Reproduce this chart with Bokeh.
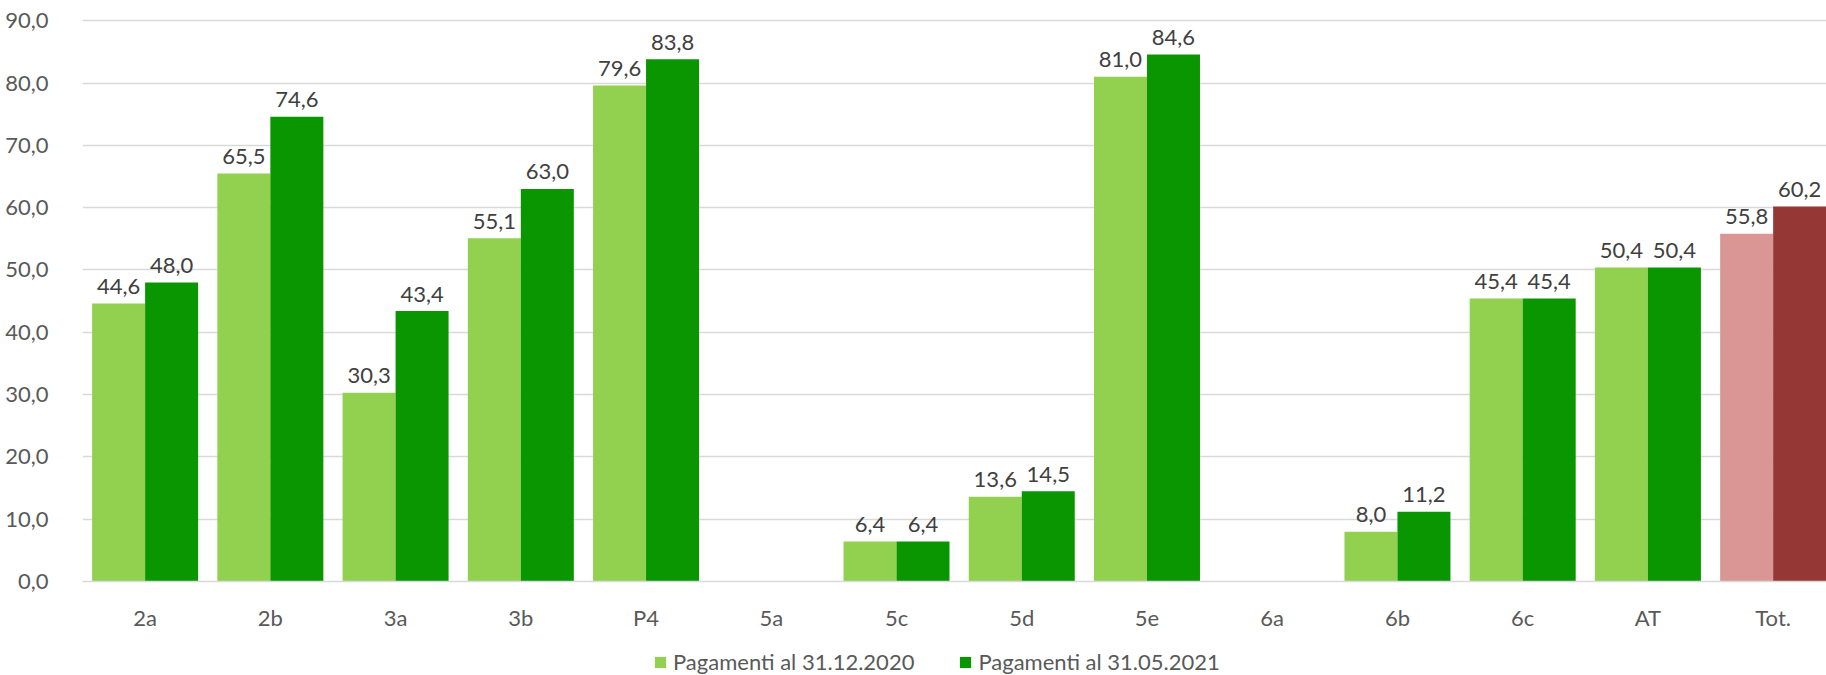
from bokeh.plotting import figure
from bokeh.layouts import column
from bokeh.models import ColumnDataSource, Range1d, Legend, LegendItem, FixedTicker
from bokeh.core.properties import value
from bokeh.embed import file_html
from bokeh.resources import INLINE

# ---- data ----
categories = ["2a", "2b", "3a", "3b", "P4", "5a", "5c", "5d", "5e", "6a", "6b", "6c", "AT", "Tot."]
pagamenti_2020 = [44.6, 65.5, 30.3, 55.1, 79.6, None, 6.4, 13.6, 81.0, None, 8.0, 45.4, 50.4, 55.8]
pagamenti_2021 = [48.0, 74.6, 43.4, 63.0, 83.8, None, 6.4, 14.5, 84.6, None, 11.2, 45.4, 50.4, 60.2]
series_names = ["Pagamenti al 31.12.2020", "Pagamenti al 31.05.2021"]
highlight_category = "Tot."
y_ticks = [0, 10, 20, 30, 40, 50, 60, 70, 80, 90]
y_tick_labels = ["0,0", "10,0", "20,0", "30,0", "40,0", "50,0", "60,0", "70,0", "80,0", "90,0"]

# ---- styles ----
base_colors = ["#92D050", "#0A9600"]
highlight_colors = ["#D99694", "#953735"]
FONT = "Lato"
BAR_W = 0.4232
offsets = [-BAR_W / 2, BAR_W / 2]


def fmt(v):
    return f"{v:.1f}".replace(".", ",")


p = figure(width=1826, height=640, output_backend="svg", toolbar_location=None,
           x_range=Range1d(0, 13.926), y_range=Range1d(0, 91),
           min_border_left=82, min_border_right=0, min_border_top=14, min_border_bottom=59)
p.outline_line_color = None
p.background_fill_color = "white"
p.border_fill_color = "white"

sources = []
for s, vals in enumerate([pagamenti_2020, pagamenti_2021]):
    xs, tops, cols, texts = [], [], [], []
    for i, (c, v) in enumerate(zip(categories, vals)):
        if v is None:
            continue
        xs.append(i + 0.5 + offsets[s])
        tops.append(v)
        cols.append(highlight_colors[s] if c == highlight_category else base_colors[s])
        texts.append(fmt(v))
    src = ColumnDataSource(dict(x=xs, top=tops, color=cols, label=texts))
    sources.append(src)
    p.vbar(x="x", top="top", width=BAR_W, bottom=0, fill_color="color",
           line_color=None, source=src)
    p.text(x="x", y="top", text="label", source=src, text_align="center",
           text_baseline="alphabetic", y_offset=-17, text_font=value(FONT),
           text_font_size="22px", text_color="#404040")

# axes
p.xaxis.ticker = FixedTicker(ticks=[i + 0.5 for i in range(len(categories))])
p.xaxis.major_label_overrides = {i + 0.5: c for i, c in enumerate(categories)}
p.xaxis.major_tick_line_color = None
p.xaxis.minor_tick_line_color = None
p.xaxis.axis_line_color = "#D9D9D9"
p.xaxis.axis_line_width = 1.5
p.xaxis.major_label_standoff = 16
p.xaxis.major_label_text_font = FONT
p.xaxis.major_label_text_font_size = "22px"
p.xaxis.major_label_text_color = "#595959"

p.yaxis.ticker = FixedTicker(ticks=y_ticks)
p.yaxis.major_label_overrides = {t: l for t, l in zip(y_ticks, y_tick_labels)}
p.yaxis.major_tick_line_color = None
p.yaxis.minor_tick_line_color = None
p.yaxis.axis_line_color = None
p.yaxis.major_label_standoff = 28
p.yaxis.major_label_text_font = FONT
p.yaxis.major_label_text_font_size = "22px"
p.yaxis.major_label_text_color = "#595959"

p.xgrid.grid_line_color = None
p.ygrid.grid_line_color = "#D9D9D9"
p.ygrid.grid_line_width = 1.3

# ---- legend strip below the chart (zero-height proxy bars carry the series colours) ----
lg = figure(width=1826, height=35, output_backend="svg", toolbar_location=None,
            x_range=Range1d(0, 13.926), y_range=Range1d(0, 1),
            x_axis_location=None, y_axis_location=None, min_border=0)
lg.outline_line_color = None
lg.xgrid.grid_line_color = None
lg.ygrid.grid_line_color = None
proxies = []
for s in range(2):
    proxies.append(lg.vbar(x="x", top=0, bottom=0, width=BAR_W, fill_color="color",
                           line_color=None, source=sources[s]))

legend = Legend(items=[LegendItem(label=series_names[s], renderers=[proxies[s]], index=0)
                       for s in range(2)],
                orientation="horizontal", location=(571, 0),
                padding=0, margin=0, spacing=44, label_standoff=6,
                glyph_width=14, glyph_height=14, label_height=22,
                border_line_color=None, background_fill_alpha=0,
                label_text_font=FONT, label_text_font_size="22px", label_text_color="#595959")
lg.add_layout(legend, "center")

open("out.html", "w").write(file_html(column(p, lg, spacing=0), INLINE))
